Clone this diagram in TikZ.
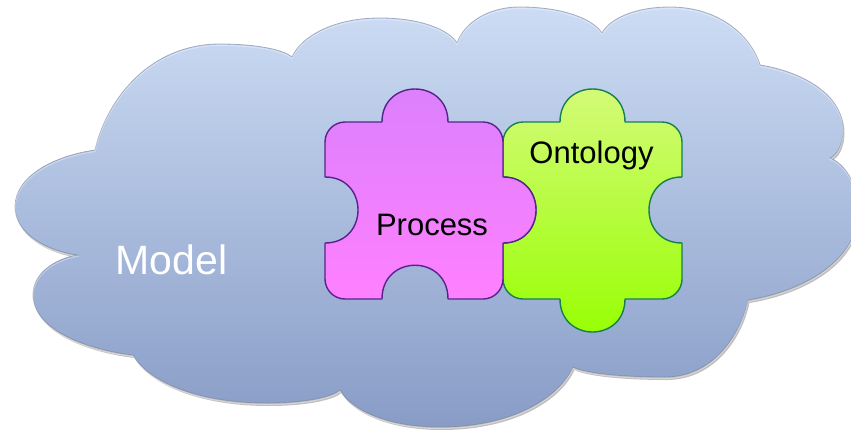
\documentclass[tikz,border=0pt]{standalone}
\usepackage{fontspec}
\setmainfont{Liberation Sans}
\definecolor{cloudtop}{RGB}{204,220,244}
\definecolor{cloudbot}{RGB}{136,156,198}
\definecolor{cloudedge}{RGB}{120,130,160}
\definecolor{proctop}{RGB}{218,128,252}
\definecolor{procbot}{RGB}{255,128,255}
\definecolor{procedge}{RGB}{88,36,140}
\definecolor{ontotop}{RGB}{214,250,124}
\definecolor{ontobot}{RGB}{150,255,0}
\definecolor{ontoedge}{RGB}{20,128,80}
\newcommand\cloudpath{(95,150)
 .. controls (107.5,97) and (151.25,44) .. (220,44)
 .. controls (259.6,44) and (284.8,50.5) .. (292,57)
 .. controls (300.8,37.5) and (331.6,18) .. (380,18)
 .. controls (422.35,18) and (449.3,30.5) .. (457,43)
 .. controls (463.3,25) and (485.35,7) .. (520,7)
 .. controls (565.1,7) and (593.8,20) .. (602,33)
 .. controls (608.8,20) and (632.6,7) .. (670,7)
 .. controls (719.5,7) and (751,36) .. (760,65)
 .. controls (801.5,71.5) and (843,94.25) .. (843,130)
 .. controls (843,145.4) and (836.5,155.2) .. (830,158)
 .. controls (844,163.4) and (858,182.3) .. (858,212)
 .. controls (858,260.4) and (803,291.2) .. (748,300)
 .. controls (739.7,338.5) and (710.65,377) .. (665,377)
 .. controls (614.4,377) and (582.2,372) .. (573,367)
 .. controls (559.7,397) and (513.15,427) .. (440,427)
 .. controls (385,427) and (350,408.5) .. (340,390)
 .. controls (332.7,396.5) and (307.15,403) .. (267,403)
 .. controls (193.3,403) and (146.4,379) .. (133,355)
 .. controls (83,349) and (33,328) .. (33,295)
 .. controls (33,273) and (55,259) .. (77,255)
 .. controls (46,250.2) and (15,233.4) .. (15,207)
 .. controls (15,175.65) and (55,155.7) .. (95,150) -- cycle}
\tikzset{
  piece/.style={line width=1.4pt, line join=round},
  label/.style={inner sep=0pt, anchor=base, font=\fontsize{31}{37}\selectfont}
}
\begin{document}
\begin{tikzpicture}[x=1pt,y=-1pt]
\useasboundingbox (0,0) rectangle (851,431);
\fill[white] (0,0) rectangle (851,431);
\clip (0,0) rectangle (851,431);
% cloud shadow
\begin{scope}[shift={(1.5,3)}]
\fill[black, opacity=0.25] \cloudpath;
\end{scope}
\shade[top color=cloudtop, bottom color=cloudbot] \cloudpath;
\draw[cloudedge, line width=0.8pt, opacity=0.6] \cloudpath;
\begin{scope}[shift={(0,1.5)}]
\draw[white, line width=1pt, opacity=0.35] \cloudpath;
\end{scope}
% Ontology piece
\shade[piece, draw=ontoedge, top color=ontotop, bottom color=ontobot]
 (523,122) -- (560,122) .. controls (560,78) and (625,78) .. (625,122)
 -- (662,122) .. controls (673,122) and (682,131) .. (682,142)
 -- (682,177) .. controls (638,177) and (638,243) .. (682,243)
 -- (682,279) .. controls (682,290) and (673,299) .. (662,299)
 -- (625,299) .. controls (625,343) and (560,343) .. (560,299)
 -- (523,299) .. controls (512,299) and (503,290) .. (503,279)
 -- (503,243) .. controls (547,243) and (547,177) .. (503,177)
 -- (503,142) .. controls (503,131) and (512,122) .. (523,122) -- cycle;
% Process piece
\shade[piece, draw=procedge, top color=proctop, bottom color=procbot]
 (345,122) -- (382,122) .. controls (382,78) and (448,78) .. (448,122)
 -- (483,122) .. controls (494,122) and (503,131) .. (503,142)
 -- (503,177) .. controls (547,177) and (547,243) .. (503,243)
 -- (503,279) .. controls (503,290) and (494,299) .. (483,299)
 -- (448,299) .. controls (448,254) and (382,254) .. (382,299)
 -- (345,299) .. controls (334,299) and (325,290) .. (325,279)
 -- (325,243) .. controls (369,243) and (369,177) .. (325,177)
 -- (325,142) .. controls (325,131) and (334,122) .. (345,122) -- cycle;
% labels
\node[label] (model) at (171.5,274) {\fontsize{41}{48}\selectfont\color{white}Model};
\node[label] (process) at (432,235.5) {Process};
\node[label] (ontology) at (591.5,163) {Ontology};
\end{tikzpicture}
\end{document}
